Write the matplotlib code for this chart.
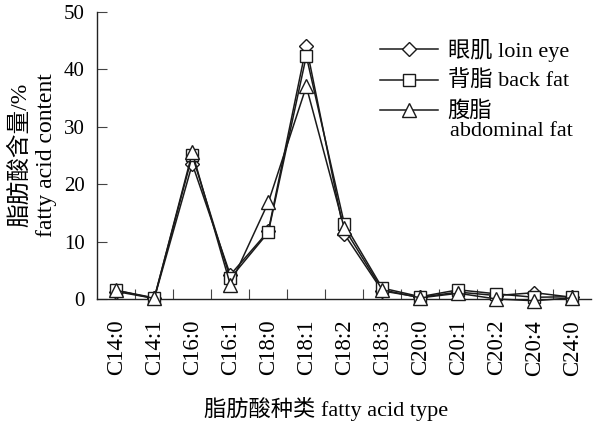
import matplotlib
matplotlib.use("Agg")
import matplotlib.pyplot as plt

plt.rcParams['font.family'] = ['Liberation Serif', 'Noto Sans CJK SC']
plt.rcParams['axes.unicode_minus'] = False

categories = ["C14:0", "C14:1", "C16:0", "C16:1", "C18:0", "C18:1", "C18:2",
              "C18:3", "C20:0", "C20:1", "C20:2", "C20:4", "C24:0"]
loin_eye = [1.3, 0.1, 23.5, 4.2, 11.8, 44.0, 11.3, 1.4, 0.3, 1.2, 0.6, 1.1, 0.3]
back_fat = [1.5, 0.2, 25.0, 3.6, 11.6, 42.3, 13.1, 1.9, 0.4, 1.6, 0.9, 0.3, 0.4]
abdominal_fat = [1.5, 0.1, 25.5, 2.5, 16.8, 37.0, 12.3, 1.6, 0.2, 1.0, 0.0, -0.3, 0.2]
series_labels = ["眼肌 loin eye", "背脂 back fat", "腹脂"]
yticks = [0, 10, 20, 30, 40, 50]

W, H = 593, 423
fig = plt.figure(figsize=(W / 100, H / 100), dpi=100)
ax = fig.add_axes([97.3 / W, 1 - 299 / H, 494 / W, (299 - 11.7) / H])

x = list(range(len(categories)))
lc = '#1a1a1a'
ax.plot(x, loin_eye, color=lc, lw=1.1, marker='D', ms=7.5, mfc='white', mec=lc, mew=1.0,
        clip_on=False, label=series_labels[0], zorder=3)
ax.plot(x, back_fat, color=lc, lw=1.1, marker='s', ms=8.5, mfc='white', mec=lc, mew=1.0,
        clip_on=False, label=series_labels[1], zorder=4)
ax.plot(x, abdominal_fat, color=lc, lw=1.1, marker='^', ms=10, mfc='white', mec=lc, mew=1.0,
        clip_on=False, label=series_labels[2], zorder=5)

ax.set_xlim(-0.5, 12.5)
ax.set_ylim(0, 50)
ax.set_yticks(yticks)
ax.set_yticklabels([str(v) for v in yticks], fontsize=15)
ax.set_xticks(x)
ax.set_xticklabels(categories, rotation=90, fontsize=16.5)
ax.set_xticks([i + 0.5 for i in range(len(categories) - 1)], minor=True)
ax.tick_params(axis='x', which='major', length=0, pad=15)
ax.tick_params(axis='x', which='minor', direction='in', length=7, width=0.8, color='#444')
ax.tick_params(axis='y', direction='in', length=7, width=0.8, color='#444', pad=9)

for s in ['top', 'right']:
    ax.spines[s].set_visible(False)
for s in ['left', 'bottom']:
    ax.spines[s].set_color('#222')
    ax.spines[s].set_linewidth(1.0)

fig.text(33 / W, 1 - 155 / H, "脂肪酸含量/%\nfatty acid content", rotation=90,
         ha='center', va='center', fontsize=17, linespacing=1.3, multialignment='center')
fig.text(326 / W, 1 - 409 / H, "脂肪酸种类 fatty acid type", ha='center', va='center', fontsize=16)

leg = ax.legend(loc='upper left', bbox_to_anchor=(380 / W, 1 - 39 / H),
                bbox_transform=fig.transFigure, frameon=False, fontsize=16,
                handlelength=2.6, handletextpad=0.45, labelspacing=0.42,
                borderpad=0, borderaxespad=0)
fig.text(450 / W, 1 - 131 / H, "abdominal fat", ha='left', va='center', fontsize=16)

fig.savefig("out.png", dpi=100)
